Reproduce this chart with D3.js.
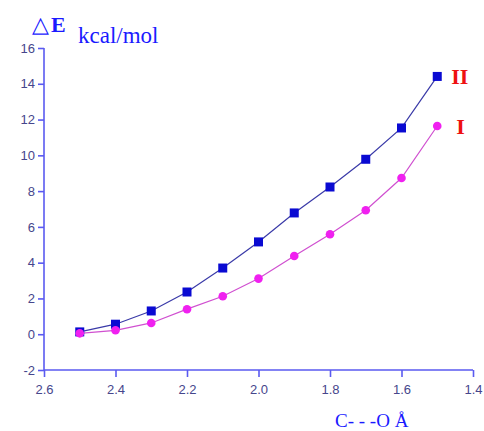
<!DOCTYPE html>
<html>
<head>
<meta charset="utf-8">
<script src="https://cdn.jsdelivr.net/npm/d3@7"></script>
<style>
  body { margin: 0; background: #fff; }
  svg { display: block; }
</style>
</head>
<body>
<svg id="chart" width="484" height="431"></svg>
<script>
// distances C---O (Angstrom)
const distances = [2.5, 2.4, 2.3, 2.2, 2.1, 2.0, 1.9, 1.8, 1.7, 1.6, 1.5];
const seriesII = [0.13, 0.56, 1.3, 2.36, 3.7, 5.16, 6.78, 8.23, 9.78, 11.53, 14.41];
const seriesI = [0.05, 0.22, 0.63, 1.4, 2.12, 3.11, 4.37, 5.59, 6.93, 8.73, 11.64];
const xTicks = [2.6, 2.4, 2.2, 2.0, 1.8, 1.6, 1.4];
const yTicks = [-2, 0, 2, 4, 6, 8, 10, 12, 14, 16];

const svg = d3.select('#chart');
const AXIS = '#5a5af0', TICKTXT = '#46468c';
const tickFont = '13px "Liberation Sans", Arial, sans-serif';

const x = d3.scaleLinear().domain([2.6, 1.4]).range([44, 473]);
const y = d3.scaleLinear().domain([-2, 16]).range([370, 48]);

// x axis, major + minor ticks
const gx = svg.append('g').attr('transform', `translate(0,${y(-2)})`);
gx.call(d3.axisBottom(x).tickValues(d3.range(2.6, 1.39, -0.1)).tickSize(4).tickFormat(''));
gx.call(d3.axisBottom(x).tickValues(xTicks).tickSize(7).tickFormat(d3.format('.1f')));
gx.selectAll('path, line').attr('stroke', AXIS).attr('stroke-width', 1.6);
gx.select('.domain').attr('d', `M${x(2.6)},0H${x(1.4)}`);
gx.selectAll('text')
  .attr('fill', TICKTXT)
  .style('font', tickFont)
  .attr('dy', '1.05em');

const gy = svg.append('g').attr('transform', `translate(${x(2.6)},0)`);
gy.call(d3.axisLeft(y).tickValues(yTicks).tickSize(6).tickFormat(d => String(d)));
gy.selectAll('path, line').attr('stroke', AXIS).attr('stroke-width', 1.6);
gy.select('.domain').attr('d', `M0,${y(16)}V${y(-2)}`);
gy.selectAll('text')
  .attr('fill', TICKTXT)
  .attr('x', -9)
  .style('font', tickFont);

const line = d3.line().x((d, i) => x(distances[i])).y(d => y(d));

svg.append('path').datum(seriesII)
  .attr('d', line).attr('fill', 'none')
  .attr('stroke', '#3a3aa8').attr('stroke-width', 1.2);
svg.append('path').datum(seriesI)
  .attr('d', line).attr('fill', 'none')
  .attr('stroke', '#d050d0').attr('stroke-width', 1.2);

svg.selectAll('.sq').data(seriesII).join('rect')
  .attr('class', 'sq')
  .attr('x', (d, i) => x(distances[i]) - 4.5)
  .attr('y', d => y(d) - 4.5)
  .attr('width', 9).attr('height', 9)
  .attr('fill', '#0a0ad2');

svg.selectAll('.ci').data(seriesI).join('circle')
  .attr('class', 'ci')
  .attr('cx', (d, i) => x(distances[i]))
  .attr('cy', d => y(d))
  .attr('r', 4.3)
  .attr('fill', '#f020f0');

// series labels
svg.append('text').attr('x', x(1.5) + 14).attr('y', y(14.41) + 8)
  .attr('fill', '#ee1111')
  .style('font', 'bold 22px "Liberation Serif", "Times New Roman", serif')
  .text('II');
svg.append('text').attr('x', x(1.5) + 19).attr('y', y(11.64) + 8)
  .attr('fill', '#ee1111')
  .style('font', 'bold 22px "Liberation Serif", "Times New Roman", serif')
  .text('I');

// axis titles
const title = svg.append('text').attr('x', 32).attr('y', 32)
  .attr('fill', '#1a1aff')
  .style('font', '22px "Liberation Serif", "Times New Roman", serif');
title.append('tspan').text('△');
title.append('tspan').attr('font-weight', 'bold').attr('dx', 2).text('E');
title.append('tspan').attr('x', 78).attr('y', 43).style('font-size', '23px').text('kcal/mol');

svg.append('text').attr('x', 335).attr('y', 427)
  .attr('fill', '#1a1aff')
  .style('font', '19px "Liberation Serif", "Times New Roman", serif')
  .text('C- - -O Å');
</script>
</body>
</html>
